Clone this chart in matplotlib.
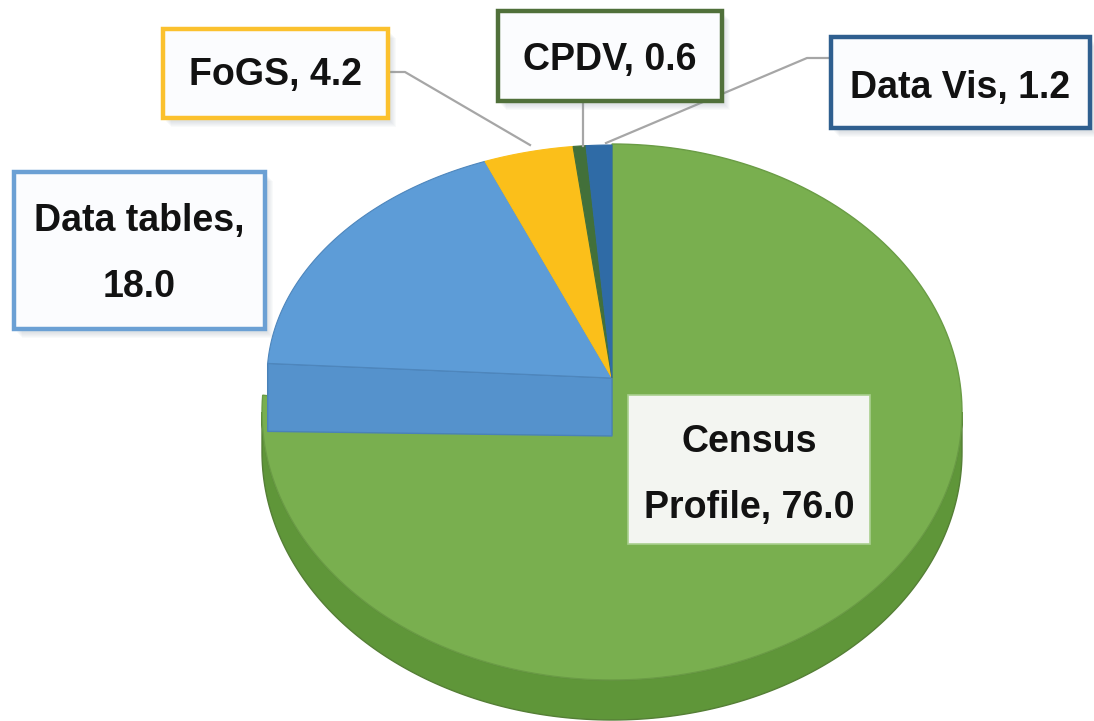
import numpy as np
import matplotlib.pyplot as plt
from matplotlib.patches import Polygon, Rectangle

# ---- data ----
categories = ["Census Profile", "Data tables", "FoGS", "CPDV", "Data Vis"]
values = [76.0, 18.0, 4.2, 0.6, 1.2]
label_texts = ["Census\nProfile, 76.0", "Data tables,\n18.0", "FoGS, 4.2", "CPDV, 0.6", "Data Vis, 1.2"]

# ---- styles ----
top_colors = ["#79AF4F", "#5D9CD7", "#FBBF1A", "#42703A", "#2F6BA6"]
border_colors = ["#A9CF8E", "#6BA0D4", "#FBC12E", "#50703A", "#2F5F8F"]
green_side = "#5F9639"
blue_cut = "#5592CC"

W, H = 1094, 721
fig = plt.figure(figsize=(W / 100, H / 100), dpi=100)
ax = fig.add_axes([0, 0, 1, 1])
ax.set_xlim(0, W)
ax.set_ylim(H, 0)
ax.axis("off")

fractions = np.array(values) / np.sum(values)
edges = np.concatenate([[0.0], np.cumsum(fractions) * 360.0])


def rim(cx, cy, rx, ry, a0, a1, n=200):
    t = np.radians(np.linspace(a0, a1, n))
    return np.column_stack([cx + rx * np.sin(t), cy - ry * np.cos(t)])


# geometry of the (pseudo 3-D) pie
gcx, gcy, grx, gry = 612, 412, 350, 268   # green (exploded) slice ellipse
g_apex = np.array([612, 435])
depth = 40
ocx, ocy, orx, ory = 612, 378, 345, 233   # other slices
o_apex = np.array([ocx, ocy])
cut_depth = 58

# green slice: side wall (front half)
a0, a1 = max(edges[0], 90), min(edges[1], 270)
top_arc = rim(gcx, gcy, grx, gry, a0, a1)
bot_arc = top_arc + np.array([0, depth])
ax.add_patch(Polygon(np.vstack([top_arc, bot_arc[::-1]]), closed=True,
                     facecolor=green_side, edgecolor="#557F36", lw=1, zorder=1))
# green top face
arc = rim(gcx, gcy, grx, gry, edges[0], edges[1])
ax.add_patch(Polygon(np.vstack([g_apex, arc]), closed=True,
                     facecolor=top_colors[0], edgecolor="#6A9C45", lw=1, zorder=2))

# blue (Data tables) radial cut face visible over the green slice
p_rim = rim(ocx, ocy, orx, ory, edges[1], edges[1], n=1)[0]
cut = np.array([o_apex, p_rim, p_rim + [0, cut_depth + 10], o_apex + [0, cut_depth]])
ax.add_patch(Polygon(cut, closed=True, facecolor=blue_cut, edgecolor="#4A82B8",
                     lw=1, zorder=3))

# remaining slices top faces
for i in range(1, len(values)):
    arc = rim(ocx, ocy, orx, ory, edges[i], edges[i + 1])
    ec = "#4E86BC" if i == 1 else top_colors[i]
    ax.add_patch(Polygon(np.vstack([o_apex, arc]), closed=True,
                         facecolor=top_colors[i], edgecolor=ec, lw=0.8, zorder=4))

# ---- leader lines ----
leaders = {
    2: [(388, 72), (405, 72), (530, 145)],
    3: [(583, 101), (583, 146)],
    4: [(831, 58), (807, 58), (606, 143)],
}
for pts in leaders.values():
    pts = np.array(pts)
    ax.plot(pts[:, 0], pts[:, 1], color="#A6A6A6", lw=1.6, zorder=5)

# ---- label boxes ----
boxes = {
    0: (628, 395, 870, 544),
    1: (14, 172, 265, 329),
    2: (163, 29, 388, 118),
    3: (498, 11, 722, 101),
    4: (831, 37, 1090, 128),
}
line_y = {
    0: [442, 508],
    1: [221, 287],
    2: [75],
    3: [60],
    4: [88],
}
for i, (x0, y0, x1, y1) in boxes.items():
    if i != 0:
        for k in range(1, 7):
            ax.add_patch(Rectangle((x0 + 2 + k, y0 + 3 + k), x1 - x0, y1 - y0,
                                   facecolor="#8090A0", edgecolor="none",
                                   alpha=0.045, zorder=6))
        lw = 3.2
        fc = "#FBFCFE"
    else:
        lw = 1.2
        fc = "#F3F5F1"
    ax.add_patch(Rectangle((x0, y0), x1 - x0, y1 - y0, facecolor=fc,
                           edgecolor=border_colors[i], lw=lw, zorder=7))
    for line, y in zip(label_texts[i].split("\n"), line_y[i]):
        ax.text((x0 + x1) / 2, y, line, ha="center", va="center",
                fontsize=27, fontweight="bold", family="Liberation Sans",
                color="#121212", zorder=8)

fig.savefig("out.png", dpi=100)
